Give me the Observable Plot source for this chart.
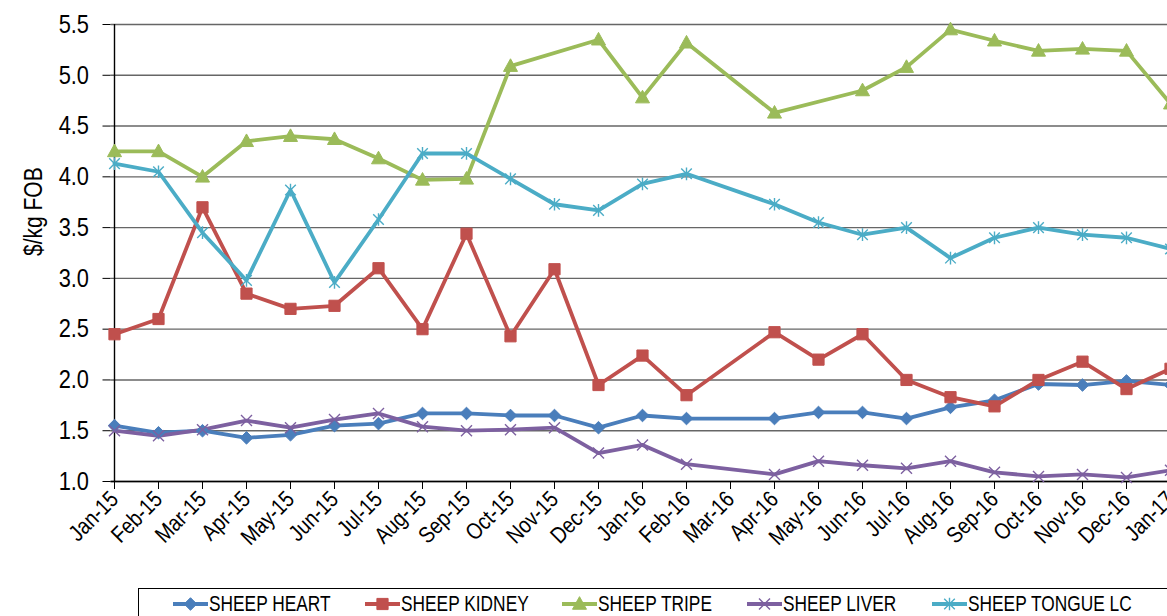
<!DOCTYPE html>
<html><head><meta charset="utf-8">
<script src="https://cdn.jsdelivr.net/npm/d3@7"></script>
<script src="https://cdn.jsdelivr.net/npm/@observablehq/plot@0.6"></script>
<style>
html,body{margin:0;padding:0;background:#fff;overflow:hidden;width:1167px;height:616px;}
#wrap{position:relative;width:1260px;height:616px;}
#chart{position:absolute;left:0;top:0;}
#legend{position:absolute;left:138px;top:588px;width:1120px;height:40px;border:1px solid #000;box-sizing:border-box;
  font-family:"Liberation Sans",Arial,sans-serif;font-size:22.5px;color:#000;}
.item{position:absolute;top:3px;height:24px;white-space:nowrap;}
.item svg{position:absolute;left:0;top:2px;display:block;}
.item span{position:absolute;left:36px;top:0;line-height:24px;display:inline-block;transform:scaleX(0.77);transform-origin:0 50%;}
</style></head><body>
<div id="wrap"><div id="chart"></div><div id="legend"></div></div>
<script>
const months = ["Jan-15","Feb-15","Mar-15","Apr-15","May-15","Jun-15","Jul-15","Aug-15","Sep-15","Oct-15","Nov-15","Dec-15",
  "Jan-16","Feb-16","Mar-16","Apr-16","May-16","Jun-16","Jul-16","Aug-16","Sep-16","Oct-16","Nov-16","Dec-16","Jan-17"];
const seriesNames = ["SHEEP HEART","SHEEP KIDNEY","SHEEP TRIPE","SHEEP LIVER","SHEEP TONGUE LC"];
const heart  = [1.55,1.48,1.50,1.43,1.46,1.55,1.57,1.67,1.67,1.65,1.65,1.53,1.65,1.62,null,1.62,1.68,1.68,1.62,1.73,1.80,1.96,1.95,1.99,1.95];
const kidney = [2.45,2.60,3.70,2.85,2.70,2.73,3.10,2.50,3.44,2.43,3.09,1.95,2.24,1.85,null,2.47,2.20,2.45,2.00,1.83,1.74,2.00,2.18,1.91,2.11];
const tripe  = [4.25,4.25,4.00,4.35,4.40,4.37,4.18,3.97,3.98,5.09,null,5.35,4.78,5.32,null,4.63,null,4.85,5.08,5.45,5.34,5.24,5.26,5.24,4.72];
const liver  = [1.50,1.45,1.51,1.60,1.53,1.61,1.67,1.54,1.50,1.51,1.53,1.28,1.36,1.17,null,1.07,1.20,1.16,1.13,1.20,1.09,1.05,1.07,1.04,1.11];
const tongue = [4.13,4.05,3.45,2.98,3.87,2.96,3.58,4.23,4.23,3.98,3.73,3.67,3.93,4.03,null,3.73,3.55,3.43,3.50,3.20,3.40,3.50,3.43,3.40,3.29];
const yTicks = [1.0,1.5,2.0,2.5,3.0,3.5,4.0,4.5,5.0,5.5];
const yTitle = "$/kg FOB";

const colors = ["#4A7EBB","#C0504D","#9BBB59","#7D60A0","#4BACC6"];

// custom marker symbols (Excel-like)
const rOf = size => Math.sqrt(size / Math.PI);
const symDiamond = {draw(c, size){const r=rOf(size); c.moveTo(0,-r); c.lineTo(r,0); c.lineTo(0,r); c.lineTo(-r,0); c.closePath();}};
const symSquare  = {draw(c, size){const r=rOf(size); c.moveTo(-r,-r); c.lineTo(r,-r); c.lineTo(r,r); c.lineTo(-r,r); c.closePath();}};
const symTri     = {draw(c, size){const r=rOf(size); c.moveTo(0,-r*1.05); c.lineTo(r,r*0.75); c.lineTo(-r,r*0.75); c.closePath();}};
const symTimes   = {draw(c, size){const r=rOf(size); c.moveTo(-r,-r); c.lineTo(r,r); c.moveTo(-r,r); c.lineTo(r,-r);}};
const symStar    = {draw(c, size){const r=rOf(size); c.moveTo(-r,-r); c.lineTo(r,r); c.moveTo(-r,r); c.lineTo(r,-r); c.moveTo(0,-r*1.2); c.lineTo(0,r*1.2);}};

const styles = [
  {symbol: symDiamond, r: 6.3, filled: true, sw: 1},
  {symbol: symSquare,  r: 5.6, filled: true, sw: 1},
  {symbol: symTri,     r: 7.0, filled: true, sw: 1},
  {symbol: symTimes,   r: 5.5, filled: false, sw: 1.4},
  {symbol: symStar,    r: 5.3, filled: false, sw: 1.4}
];
const valuesList = [heart, kidney, tripe, liver, tongue];

const seriesRows = seriesNames.map((name, k) =>
  months.map((m, i) => ({series: name, month: m, value: valuesList[k][i]})).filter(d => d.value != null));

const font = '"Liberation Sans",Arial,sans-serif';

const marks = [
  Plot.ruleY(yTicks, {stroke: "#666", strokeWidth: 1.4}),
  Plot.ruleY([1], {stroke: "#000", strokeWidth: 1.4}),
  Plot.ruleX([months[0]], {stroke: "#000", strokeWidth: 1.4}),
  Plot.axisY(yTicks, {tickSize: 8, tickPadding: 14, tickFormat: d3.format(".1f"), fontSize: 26, label: null, stroke: "#000"}),
  Plot.axisX(months, {tickSize: 8, tickRotate: -45, tickPadding: 6, fontSize: 23, label: null, stroke: "#000"}),
  Plot.text([yTitle], {frameAnchor: "left", dx: -77, dy: 3, rotate: -90, fontSize: 25, fill: "#000"})
];
seriesRows.forEach((rows, k) => {
  marks.push(Plot.line(rows, {x: "month", y: "value", stroke: colors[k], strokeWidth: 3.8, strokeLinejoin: "round"}));
});
seriesRows.forEach((rows, k) => {
  const s = styles[k];
  marks.push(Plot.dot(rows, {x: "month", y: "value", symbol: s.symbol, r: s.r,
    fill: s.filled ? colors[k] : "none", stroke: colors[k], strokeWidth: s.sw}));
});

const chart = Plot.plot({
  width: 1260, height: 560,
  marginLeft: 110.5, marginRight: 0, marginTop: 24, marginBottom: 79,
  style: {fontFamily: font, color: "#000", background: "#fff", overflow: "visible"},
  x: {type: "point", domain: months, range: [110.5, 1173.5], padding: 0},
  y: {domain: [1, 5.5]},
  marks
});
// narrow the glyphs (Arial Narrow look) along each text's own baseline
chart.querySelectorAll("text").forEach(t => {
  const tr = t.getAttribute("transform") || "";
  const x = +t.getAttribute("x") || 0, y = +t.getAttribute("y") || 0;
  t.setAttribute("transform", `${tr} translate(${x},${y}) scale(0.84,1) translate(${-x},${-y})`);
});
document.getElementById("chart").appendChild(chart);

// legend
const legendLeft = [173, 365, 562, 747, 932];
const leg = document.getElementById("legend");
seriesNames.forEach((name, k) => {
  const item = document.createElement("div");
  item.className = "item";
  item.style.left = (legendLeft[k] - 139) + "px";
  const sw = d3.create("svg").attr("width", 36).attr("height", 20);
  sw.append("line").attr("x1", 0).attr("x2", 35).attr("y1", 10).attr("y2", 10).attr("stroke", colors[k]).attr("stroke-width", 3.8);
  const s = styles[k];
  sw.append("path").attr("transform", "translate(17.5,10)")
    .attr("d", d3.symbol(s.symbol, s.r * s.r * Math.PI)())
    .attr("fill", s.filled ? colors[k] : "none").attr("stroke", colors[k]).attr("stroke-width", s.sw);
  item.appendChild(sw.node());
  const t = document.createElement("span");
  t.textContent = name;
  item.appendChild(t);
  leg.appendChild(item);
});
</script>
</body></html>
